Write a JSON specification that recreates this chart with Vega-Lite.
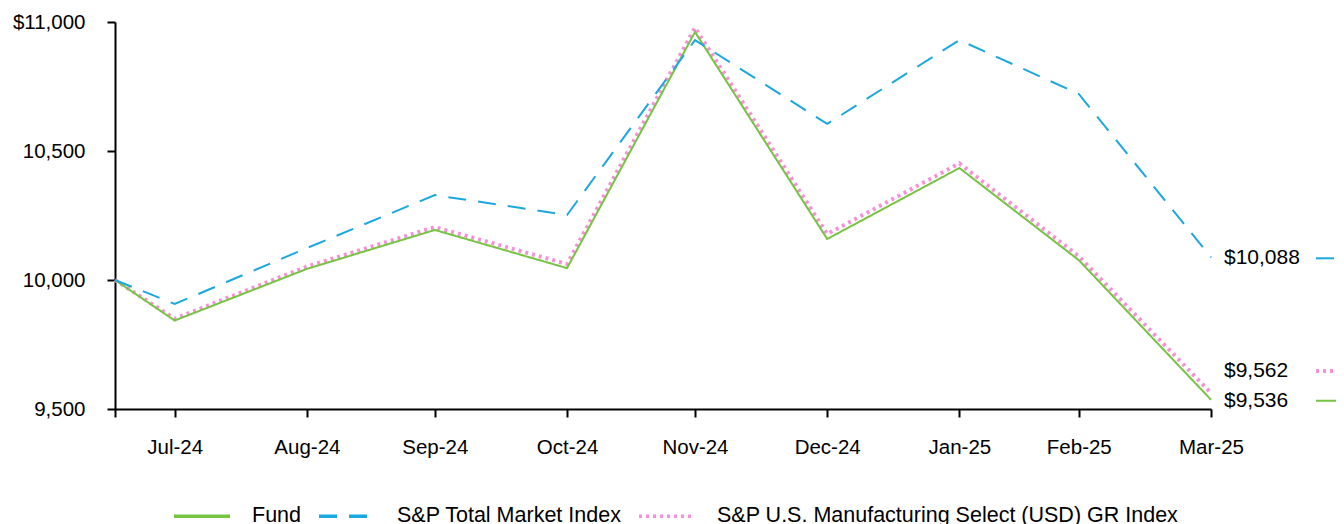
{
  "$schema": "https://vega.github.io/schema/vega-lite/v6.json",
  "width": 1096,
  "height": 387,
  "autosize": {"type": "none"},
  "padding": {"left": 115, "top": 22, "right": 133, "bottom": 115},
  "background": "white",
  "config": {
    "font": "Liberation Sans",
    "view": {"stroke": null},
    "axis": {"labelFontSize": 20.5, "labelColor": "black", "domainColor": "black", "tickColor": "black", "domainWidth": 2, "tickWidth": 2, "grid": false, "title": null}
  },
  "data": {
    "values": [
      {"date": "2024-07-17", "series": "Fund", "value": 10000},
      {"date": "2024-07-31", "series": "Fund", "value": 9843},
      {"date": "2024-08-31", "series": "Fund", "value": 10043},
      {"date": "2024-09-30", "series": "Fund", "value": 10194},
      {"date": "2024-10-31", "series": "Fund", "value": 10046},
      {"date": "2024-11-30", "series": "Fund", "value": 10961},
      {"date": "2024-12-31", "series": "Fund", "value": 10159},
      {"date": "2025-01-31", "series": "Fund", "value": 10434},
      {"date": "2025-02-28", "series": "Fund", "value": 10077},
      {"date": "2025-03-31", "series": "Fund", "value": 9536},
      {"date": "2024-07-17", "series": "S&P Total Market Index", "value": 10000},
      {"date": "2024-07-31", "series": "S&P Total Market Index", "value": 9907},
      {"date": "2024-08-31", "series": "S&P Total Market Index", "value": 10124},
      {"date": "2024-09-30", "series": "S&P Total Market Index", "value": 10329},
      {"date": "2024-10-31", "series": "S&P Total Market Index", "value": 10252},
      {"date": "2024-11-30", "series": "S&P Total Market Index", "value": 10930},
      {"date": "2024-12-31", "series": "S&P Total Market Index", "value": 10605},
      {"date": "2025-01-31", "series": "S&P Total Market Index", "value": 10930},
      {"date": "2025-02-28", "series": "S&P Total Market Index", "value": 10721},
      {"date": "2025-03-31", "series": "S&P Total Market Index", "value": 10088},
      {"date": "2024-07-17", "series": "S&P U.S. Manufacturing Select (USD) GR Index", "value": 10000},
      {"date": "2024-07-31", "series": "S&P U.S. Manufacturing Select (USD) GR Index", "value": 9850},
      {"date": "2024-08-31", "series": "S&P U.S. Manufacturing Select (USD) GR Index", "value": 10052},
      {"date": "2024-09-30", "series": "S&P U.S. Manufacturing Select (USD) GR Index", "value": 10205},
      {"date": "2024-10-31", "series": "S&P U.S. Manufacturing Select (USD) GR Index", "value": 10062},
      {"date": "2024-11-30", "series": "S&P U.S. Manufacturing Select (USD) GR Index", "value": 10978},
      {"date": "2024-12-31", "series": "S&P U.S. Manufacturing Select (USD) GR Index", "value": 10178},
      {"date": "2025-01-31", "series": "S&P U.S. Manufacturing Select (USD) GR Index", "value": 10452},
      {"date": "2025-02-28", "series": "S&P U.S. Manufacturing Select (USD) GR Index", "value": 10092},
      {"date": "2025-03-31", "series": "S&P U.S. Manufacturing Select (USD) GR Index", "value": 9562}
    ]
  },
  "encoding": {
    "x": {
      "field": "date", "type": "temporal",
      "scale": {"type": "utc", "domain": [{"year": 2024, "month": 7, "date": 17, "utc": true}, {"year": 2025, "month": 3, "date": 31, "utc": true}], "nice": false},
      "axis": {
        "values": [
          {"year": 2024, "month": 7, "date": 17, "utc": true},
          {"year": 2024, "month": 7, "date": 31, "utc": true},
          {"year": 2024, "month": 8, "date": 31, "utc": true},
          {"year": 2024, "month": 9, "date": 30, "utc": true},
          {"year": 2024, "month": 10, "date": 31, "utc": true},
          {"year": 2024, "month": 11, "date": 30, "utc": true},
          {"year": 2024, "month": 12, "date": 31, "utc": true},
          {"year": 2025, "month": 1, "date": 31, "utc": true},
          {"year": 2025, "month": 2, "date": 28, "utc": true},
          {"year": 2025, "month": 3, "date": 31, "utc": true}
        ],
        "labelExpr": "datum.value < utc(2024,6,20) ? '' : utcFormat(datum.value, '%b-%y')",
        "tickSize": 8, "labelPadding": 20, "labelFlush": false, "labelOverlap": false
      }
    },
    "y": {
      "field": "value", "type": "quantitative",
      "scale": {"domain": [9500, 11000], "nice": false, "zero": false},
      "axis": {"values": [9500, 10000, 10500, 11000], "labelExpr": "datum.value == 11000 ? '$11,000' : format(datum.value, ',')", "tickSize": 8, "labelPadding": 22}
    },
    "color": {
      "field": "series", "type": "nominal",
      "scale": {"domain": ["Fund", "S&P Total Market Index", "S&P U.S. Manufacturing Select (USD) GR Index"], "range": ["#76c442", "#1ba7e0", "#f78fdb"]},
      "legend": {
        "orient": "none", "legendX": 57, "legendY": 464, "direction": "horizontal", "columns": 3,
        "title": null, "symbolType": "stroke", "symbolSize": 3136, "symbolStrokeWidth": 3.5,
        "labelFontSize": 21.5, "labelColor": "black", "labelLimit": 700, "labelOffset": 20, "columnPadding": 10
      }
    },
    "strokeDash": {
      "field": "series", "type": "nominal",
      "scale": {"domain": ["Fund", "S&P Total Market Index", "S&P U.S. Manufacturing Select (USD) GR Index"], "range": [[1, 0], [18, 12], [3, 4]]}
    }
  },
  "layer": [
    {
      "transform": [{"filter": "datum.series == 'S&P U.S. Manufacturing Select (USD) GR Index'"}],
      "mark": {"type": "line", "strokeWidth": 4}
    },
    {
      "transform": [{"filter": "datum.series != 'S&P U.S. Manufacturing Select (USD) GR Index'"}],
      "mark": {"type": "line", "strokeWidth": 2}
    },
    {
      "transform": [{"filter": "datum.series != 'S&P U.S. Manufacturing Select (USD) GR Index' && utcyear(datum.date) == 2025 && utcmonth(datum.date) == 2"}],
      "mark": {"type": "text", "align": "left", "baseline": "middle", "dx": 13, "dy": 1, "fontSize": 21, "color": "black"},
      "encoding": {"text": {"field": "value", "type": "quantitative", "format": "$,.0f"}, "color": {"value": "black"}, "strokeDash": null}
    },
    {
      "transform": [{"filter": "datum.series == 'S&P U.S. Manufacturing Select (USD) GR Index' && utcyear(datum.date) == 2025 && utcmonth(datum.date) == 2"}],
      "mark": {"type": "text", "align": "left", "baseline": "middle", "dx": 13, "dy": -22, "fontSize": 21, "color": "black"},
      "encoding": {"text": {"field": "value", "type": "quantitative", "format": "$,.0f"}, "color": {"value": "black"}, "strokeDash": null}
    },
    {
      "transform": [{"filter": "datum.series != 'S&P U.S. Manufacturing Select (USD) GR Index' && utcyear(datum.date) == 2025 && utcmonth(datum.date) == 2"}],
      "mark": {"type": "rule", "xOffset": 105, "x2Offset": 125, "yOffset": 1, "y2Offset": 1, "strokeWidth": 2},
      "encoding": {"x2": {"field": "date"}}
    },
    {
      "transform": [{"filter": "datum.series == 'S&P U.S. Manufacturing Select (USD) GR Index' && utcyear(datum.date) == 2025 && utcmonth(datum.date) == 2"}],
      "mark": {"type": "rule", "xOffset": 105, "x2Offset": 125, "yOffset": -22, "y2Offset": -22, "strokeWidth": 4},
      "encoding": {"x2": {"field": "date"}}
    }
  ]
}
